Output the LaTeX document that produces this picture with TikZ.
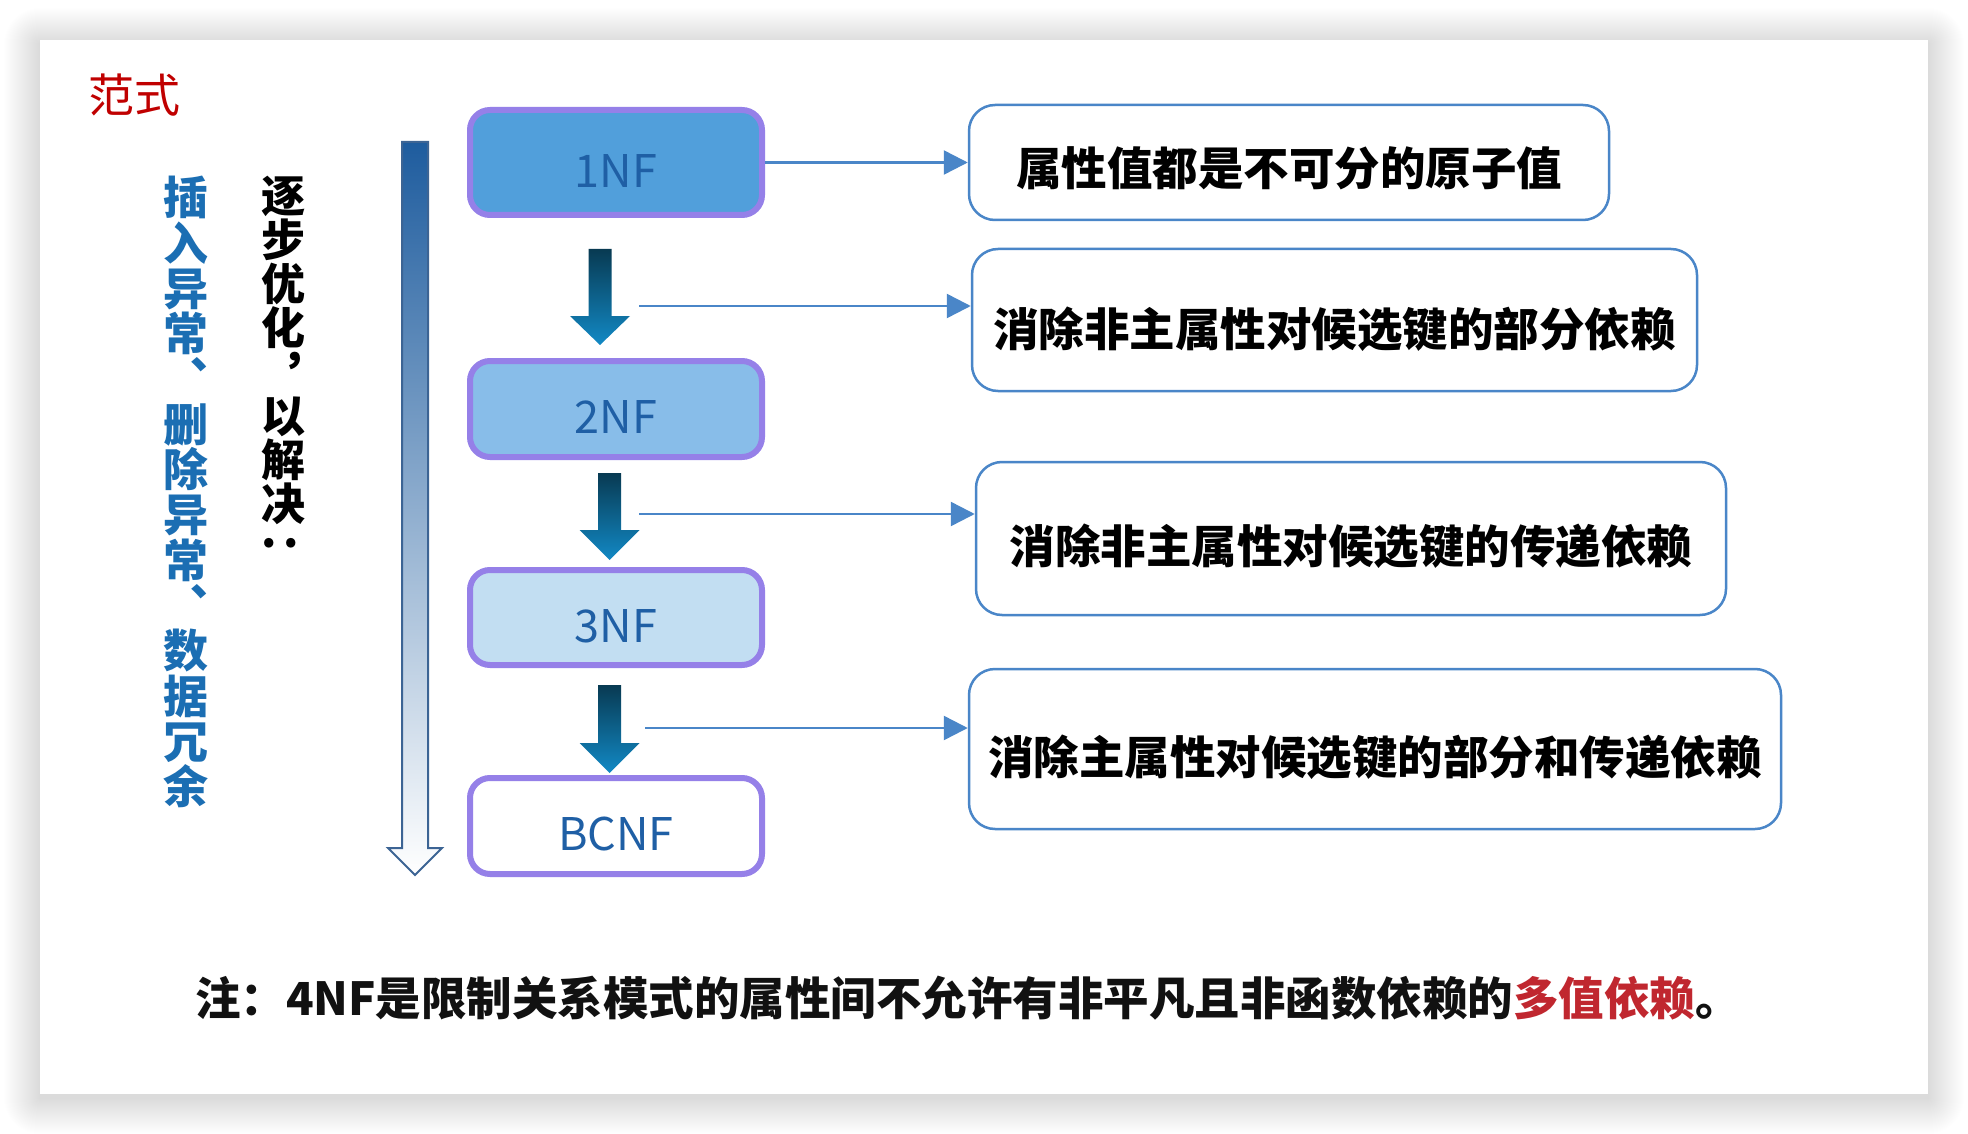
\documentclass[tikz,border=0pt]{standalone}
\usepackage{fontspec}
\usetikzlibrary{arrows.meta}
\newfontfamily\cjk{Noto Sans CJK SC}
\definecolor{nfpurple}{HTML}{9580E8}
\definecolor{nfone}{HTML}{519FDB}
\definecolor{nftwo}{HTML}{88BDE9}
\definecolor{nfthree}{HTML}{C2DEF2}
\definecolor{nftext}{HTML}{1F5FA5}
\definecolor{rblue}{HTML}{4A86C8}
\definecolor{vblue}{HTML}{1B6EB3}
\definecolor{titlered}{HTML}{C00000}
\definecolor{notered}{HTML}{C0272F}
\definecolor{notetext}{HTML}{111111}
\definecolor{bigtop}{HTML}{1E5C9E}
\definecolor{bigline}{HTML}{3C6494}
\definecolor{blktop}{HTML}{083A52}
\definecolor{blkbot}{HTML}{1289C5}
\begin{document}
\begin{tikzpicture}[x=1pt,y=-1pt,
  nfbox/.style={draw=nfpurple, line width=6pt, rounded corners=20pt, minimum width=292pt, inner sep=0pt},
  nflabel/.style={inner sep=0pt, text=nftext, font=\cjk\fontsize{45}{45}\selectfont},
  rbox/.style={draw=rblue, line width=2.5pt, rounded corners=26pt, inner sep=0pt, fill=white},
  rtext/.style={inner sep=0pt, text=black, font=\cjk\bfseries\fontsize{45.5}{45.5}\selectfont},
  conn/.style={draw=rblue, line width=2.5pt, -{Triangle[length=24pt,width=24pt]}},
  vtext/.style={inner sep=0pt, anchor=north, align=center},
  blkarrow/.style={top color=blktop, bottom color=blkbot, draw=none}
]
\useasboundingbox (0,0) rectangle (1968,1134);
\fill[white] (0,0) rectangle (1968,1134);
% soft shadow of the card
\foreach \i in {1,...,36} {
  \fill[black, opacity=0.003, rounded corners=\i pt] (40-\i, 44-\i) rectangle (1928+\i, 1098+\i);
}
\fill[white] (40,40) rectangle (1928,1094);

% title
\node[inner sep=0pt, text=titlered, font=\cjk\fontsize{46}{46}\selectfont] (title) at (134,95) {范式};

% vertical texts
\node[vtext, text=vblue, font=\cjk\bfseries\fontsize{45}{45.3}\selectfont] (vleft) at (186,176)
  {插\\入\\异\\常\\︑\\删\\除\\异\\常\\︑\\数\\据\\冗\\余};
\node[vtext, text=black, font=\cjk\bfseries\fontsize{44}{44}\selectfont] (vright) at (283,176)
  {逐\\步\\优\\化\\︐\\以\\解\\决};
\node[inner sep=0pt, anchor=south, text=black, font=\cjk\bfseries\fontsize{44}{44}\selectfont] (vcolon) at (280,548)
  {.\kern7pt.};

% big left arrow
\shade[top color=bigtop, bottom color=white]
  (402,142) -- (428,142) -- (428,848) -- (442,848) -- (415,875) -- (388,848) -- (402,848) -- cycle;
\draw[bigline, line width=2pt, line join=miter]
  (402,142) -- (428,142) -- (428,848) -- (442,848) -- (415,875) -- (388,848) -- (402,848) -- cycle;

% NF boxes
\node[nfbox, fill=nfone, minimum height=105pt] (n1) at (616,162.5) {};
\node[nfbox, fill=nftwo, minimum height=96pt] (n2) at (616,409) {};
\node[nfbox, fill=nfthree, minimum height=95pt] (n3) at (616,617.5) {};
\node[nfbox, fill=white, minimum height=96pt] (n4) at (616,826) {};
\node[nflabel] (l1) at ([yshift=-9pt]n1.center) {1NF};
\node[nflabel] (l2) at ([yshift=-8.5pt]n2.center) {2NF};
\node[nflabel] (l3) at ([yshift=-8.5pt]n3.center) {3NF};
\node[nflabel] (l4) at ([yshift=-8pt]n4.center) {BCNF};

% block arrows between NF boxes
\shade[blkarrow] (588.5,249) -- (611.5,249) -- (611.5,316) -- (630,316) -- (600,345) -- (570,316) -- (588.5,316) -- cycle;
\shade[blkarrow] (598,473) -- (621,473) -- (621,530) -- (639.5,530) -- (609.5,560) -- (579.5,530) -- (598,530) -- cycle;
\shade[blkarrow] (598,685) -- (621,685) -- (621,743) -- (639.5,743) -- (609.5,773) -- (579.5,743) -- (598,743) -- cycle;

% right boxes
\node[rbox, minimum width=640pt, minimum height=115pt] (bA) at (1289,162.5) {};
\node[rbox, minimum width=725pt, minimum height=142pt] (bB) at (1334.5,320) {};
\node[rbox, minimum width=750pt, minimum height=153pt] (bC) at (1351,538.5) {};
\node[rbox, minimum width=812pt, minimum height=160pt] (bD) at (1375,749) {};
\node[rtext] (tA) at ([yshift=-6pt]bA.center) {属性值都是不可分的原子值};
\node[rtext] (tB) at ([yshift=-9pt]bB.center) {消除非主属性对候选键的部分依赖};
\node[rtext] (tC) at ([yshift=-8pt]bC.center) {消除非主属性对候选键的传递依赖};
\node[rtext] (tD) at ([yshift=-8pt]bD.center) {消除主属性对候选键的部分和传递依赖};

% connectors
\coordinate (s2) at (639,306);
\coordinate (s3) at (639,514);
\coordinate (s4) at (645,728);
\draw[conn] (n1.east) -- (n1.east -| bA.west);
\draw[conn] (s2) -- (s2 -| bB.west);
\draw[conn] (s3) -- (s3 -| bC.west);
\draw[conn] (s4) -- (s4 -| bD.west);

% bottom note
\node[inner sep=0pt, text=notetext, font=\cjk\bfseries\fontsize{45.5}{45.5}\selectfont] (note) at (968,998)
  {注：4NF是限制关系模式的属性间不允许有非平凡且非函数依赖的\textcolor{notered}{多值依赖}。};
\end{tikzpicture}
\end{document}
